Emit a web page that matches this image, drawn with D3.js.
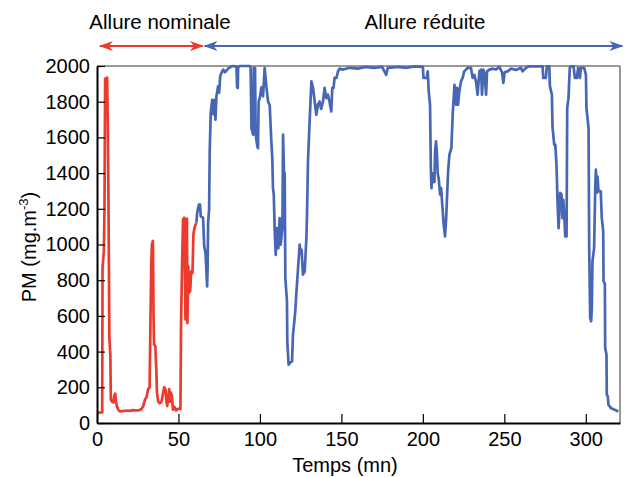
<!DOCTYPE html>
<html>
<head>
<meta charset="utf-8">
<script src="https://cdn.jsdelivr.net/npm/d3@7.9.0/dist/d3.min.js"></script>
<style>
  body { margin: 0; background: #fff; }
  svg text { font-family: "Liberation Sans", Arial, Helvetica, sans-serif; fill: #000; }
</style>
</head>
<body>
<svg id="chart" width="631" height="477"></svg>
<script>
// time (mn) and PM (mg.m-3), nominal phase (red)
const nominalTime = [0, 3.2, 3.4, 4.2, 4.6, 5.0, 5.6, 6.2, 6.6, 7.0, 7.3, 7.6, 8.2, 8.5, 9.3, 10, 10.6, 11.2, 11.6, 12.2, 13, 14, 16, 18, 20, 22, 24, 26, 27.5, 28.4, 29.4, 30.4, 31.4, 32.3, 32.8, 33.3, 33.7, 34.3, 34.7, 35.0, 35.8, 36.4, 36.8, 37.6, 38.6, 39.6, 40.6, 41.2, 42.0, 42.6, 43.1, 43.7, 44.3, 44.8, 45.3, 46, 46.6, 47.5, 48.5, 49.8, 51.2, 51.6, 52.2, 52.8, 53.5, 54.3, 54.7, 55.2, 55.5, 56, 56.4, 57.2, 57.8, 58.6, 59.2, 60, 61];
const nominalPM = [58, 60, 870, 960, 1200, 1930, 1900, 1935, 1700, 1290, 900, 480, 380, 130, 120, 115, 150, 165, 120, 95, 75, 65, 66, 70, 68, 72, 70, 72, 80, 95, 130, 145, 190, 200, 570, 880, 1000, 1020, 600, 440, 430, 300, 170, 120, 110, 120, 170, 200, 190, 120, 95, 140, 190, 120, 170, 150, 75, 90, 70, 80, 78, 560, 880, 1140, 1150, 580, 1140, 1145, 560, 880, 730, 740, 850, 840, 1060, 1100, 1122];

// reduced phase (blue)
const reducedTime = [61, 61.5, 62.5, 63.2, 63.7, 65.1, 65.8, 66.6, 67.2, 67.6, 67.9, 68.2, 68.8, 69.2, 69.8, 70.7, 71.3, 71.9, 72.7, 73.3, 74.3, 75, 75.6, 76.4, 77.4, 78.5, 80.5, 82.5, 84, 85.6, 86, 86.4, 86.6, 88, 93.8, 94.3, 94.8, 95.8, 96.2, 97.0, 97.4, 98.4, 98.8, 99.2, 99.9, 100.9, 101.9, 102.9, 104, 105, 106, 107, 107.6, 108, 108.5, 109.1, 109.7, 110.5, 111.3, 112.1, 112.7, 113.8, 114.2, 114.8, 115.2, 115.6, 116.6, 116.8, 117.6, 118.7, 119.7, 120.3, 121.7, 122.3, 123.4, 124.4, 125, 125.6, 126.4, 127.5, 128.5, 128.9, 129.5, 130.5, 131.6, 132.6, 133.6, 134.6, 135.6, 136.6, 137.6, 138.7, 139.7, 140.7, 141.7, 142.7, 143.8, 144.4, 145.2, 145.8, 147, 147.9, 148.9, 151, 155, 160, 165, 170, 175, 177.5, 178.5, 185, 190, 195, 200, 200.4, 202.4, 203, 203.6, 204.4, 204.9, 205.3, 205.7, 206.1, 206.5, 207.1, 207.5, 208.1, 208.7, 209.1, 209.7, 210.6, 211.2, 212.2, 212.8, 213.6, 214.3, 214.9, 215.5, 216.3, 217.5, 218.3, 219.4, 220.4, 221, 221.6, 222.4, 223.4, 224.4, 225.4, 226.5, 227.5, 229.5, 230.6, 231.6, 232.6, 233.6, 234.7, 235.7, 236.3, 237.1, 237.9, 238.8, 239.4, 240.8, 243, 244.9, 246.9, 248.6, 249.4, 250.2, 252, 254.1, 257.2, 260.2, 261.2, 263.3, 265.3, 273.5, 273.9, 275.5, 276.1, 277.6, 278, 279.2, 279.6, 280, 280.6, 281.3, 282.1, 282.7, 283, 283.3, 283.7, 284.3, 285.1, 285.7, 286.2, 286.8, 287.4, 288.2, 288.6, 289.4, 289.8, 290.2, 290.8, 292.5, 293.3, 294.5, 295.3, 296.4, 297, 299, 300.1, 300.4, 301.7, 302.1, 302.7, 303.3, 303.7, 304.1, 305.1, 305.8, 306.2, 306.8, 307.2, 307.8, 309.2, 309.8, 310.7, 310.9, 311.7, 311.9, 312.7, 312.9, 313.5, 313.9, 315.4, 317.4, 320];
const reducedPM = [1122, 1178, 1223, 1223, 1158, 1150, 990, 954, 842, 765, 880, 1122, 1195, 1531, 1737, 1811, 1730, 1811, 1699, 1830, 1886, 1850, 1942, 1961, 1980, 1965, 1985, 1998, 2000, 1995, 1880, 1877, 1995, 2000, 2000, 1990, 1652, 1615, 1990, 1990, 1615, 1550, 1540, 1800, 1820, 1880, 1830, 1990, 1880, 1801, 1780, 1577, 1484, 1316, 1279, 1073, 942, 1092, 980, 1148, 999, 1092, 1615, 1391, 1400, 812, 681, 457, 327, 340, 345, 495, 625, 719, 868, 999, 950, 970, 831, 850, 1036, 1167, 1466, 1690, 1914, 1877, 1801, 1727, 1783, 1801, 1760, 1801, 1877, 1820, 1840, 1801, 1745, 1877, 1877, 1933, 1933, 1970, 1985, 1980, 1990, 1985, 1995, 1990, 1995, 1950, 1990, 1995, 1990, 1998, 1995, 1933, 1933, 1970, 1858, 1783, 1429, 1316, 1400, 1350, 1391, 1350, 1522, 1578, 1500, 1400, 1370, 1279, 1316, 1185, 1111, 1045, 1148, 1279, 1410, 1503, 1540, 1727, 1895, 1783, 1877, 1783, 1858, 1914, 1933, 1970, 1980, 1990, 1990, 1933, 1950, 1914, 1839, 1970, 1980, 1839, 1980, 1950, 1839, 1970, 1980, 1985, 1980, 1995, 1965, 1905, 1965, 1970, 1985, 1978, 1990, 1970, 1990, 1998, 1998, 1933, 1933, 1998, 1998, 1886, 1840, 1652, 1620, 1559, 1559, 1429, 1223, 1167, 1092, 1160, 1289, 1280, 1148, 1250, 1160, 1045, 1045, 1765, 1820, 1914, 1990, 1998, 1998, 1933, 1933, 1990, 1933, 1990, 1990, 1950, 1765, 1652, 980, 588, 570, 644, 905, 980, 1316, 1419, 1290, 1380, 1298, 1298, 1150, 1073, 793, 780, 420, 383, 158, 150, 103, 84, 75, 65];

const xTicks = [0, 50, 100, 150, 200, 250, 300];
const yTicks = [0, 200, 400, 600, 800, 1000, 1200, 1400, 1600, 1800, 2000];

// phases shown by arrows above the plot
const phaseLabels = ['Allure nominale', 'Allure réduite'];
const phaseStart = [1.8, 66];
const phaseEnd = [65, 322.5];
const phaseColors = ['#ec3a2f', '#4767b4'];

const svg = d3.select('#chart');
const plotLeft = 97, plotRight = 620, plotTop = 66, plotBottom = 423;

const x = d3.scaleLinear().domain([0, 321]).range([plotLeft, plotRight]);
const y = d3.scaleLinear().domain([0, 2000]).range([plotBottom, plotTop]);

// frame (top and right)
svg.append('line').attr('x1', plotLeft).attr('x2', plotRight).attr('y1', plotTop).attr('y2', plotTop)
  .attr('stroke', '#333').attr('stroke-width', 1);
svg.append('line').attr('x1', plotRight).attr('x2', plotRight).attr('y1', plotTop).attr('y2', plotBottom)
  .attr('stroke', '#333').attr('stroke-width', 1);

// series
const line = d3.line().x(d => x(d[0])).y(d => y(d[1]));
const reduced = d3.zip(reducedTime, reducedPM);
const nominal = d3.zip(nominalTime, nominalPM);

svg.append('path').datum(reduced).attr('d', line)
  .attr('fill', 'none').attr('stroke', phaseColors[1]).attr('stroke-width', 2.7)
  .attr('stroke-linejoin', 'round');
svg.append('path').datum(nominal).attr('d', line)
  .attr('fill', 'none').attr('stroke', phaseColors[0]).attr('stroke-width', 2.7)
  .attr('stroke-linejoin', 'round');

// axes
const xAxis = svg.append('g').attr('transform', `translate(0,${plotBottom})`)
  .call(d3.axisBottom(x).tickValues(xTicks).tickFormat(d3.format('d'))
    .tickSizeInner(-9).tickSizeOuter(0).tickPadding(9));
const yAxis = svg.append('g').attr('transform', `translate(${plotLeft},0)`)
  .call(d3.axisLeft(y).tickValues(yTicks).tickFormat(d3.format('d'))
    .tickSizeInner(-8).tickSizeOuter(0).tickPadding(7));

[xAxis, yAxis].forEach(g => {
  g.select('.domain').attr('stroke', '#000').attr('stroke-width', 2);
  g.selectAll('.tick line').attr('stroke', '#000').attr('stroke-width', 1.2);
  g.selectAll('.tick text').attr('font-size', 20).attr('font-family', '"Liberation Sans", Arial, sans-serif');
});
xAxis.selectAll('.tick text').attr('dy', '0.72em');

// axis titles
svg.append('text').attr('x', 345).attr('y', 472).attr('text-anchor', 'middle')
  .attr('font-size', 20).text('Temps (mn)');

const yTitle = svg.append('text')
  .attr('transform', 'translate(36,247) rotate(-90)')
  .attr('text-anchor', 'middle').attr('font-size', 20);
yTitle.append('tspan').text('PM (mg.m');
yTitle.append('tspan').attr('font-size', 13).attr('dy', -8).text('-3');
yTitle.append('tspan').attr('dy', 8).text(')');

// arrows for phases
const defs = svg.append('defs');
phaseColors.forEach((c, i) => {
  defs.append('marker').attr('id', `head${i}`)
    .attr('viewBox', '0 0 14 10').attr('refX', 13).attr('refY', 5)
    .attr('markerWidth', 14).attr('markerHeight', 10)
    .attr('markerUnits', 'userSpaceOnUse')
    .attr('orient', 'auto-start-reverse')
    .append('path').attr('d', 'M0,0 L14,5 L0,10 L4,5 Z').attr('fill', c);
});

const arrowY = 46;
const labelX = [160, 425];
phaseLabels.forEach((lab, i) => {
  svg.append('line')
    .attr('x1', x(phaseStart[i])).attr('x2', x(phaseEnd[i]))
    .attr('y1', arrowY).attr('y2', arrowY)
    .attr('stroke', phaseColors[i]).attr('stroke-width', 2)
    .attr('marker-start', `url(#head${i})`).attr('marker-end', `url(#head${i})`);
  svg.append('text').attr('x', labelX[i]).attr('y', 29).attr('text-anchor', 'middle')
    .attr('font-size', 20.5).text(lab);
});
</script>
</body>
</html>
